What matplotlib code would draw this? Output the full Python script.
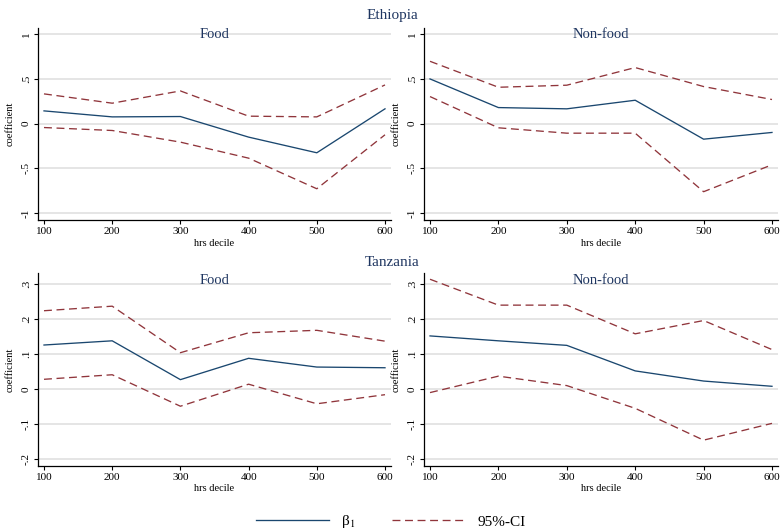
import matplotlib
matplotlib.use("Agg")
import matplotlib.pyplot as plt
from matplotlib.lines import Line2D

plt.rcParams['font.family'] = ['Liberation Serif', 'DejaVu Serif']
plt.rcParams['mathtext.fontset'] = 'stix'

deciles = [100, 200, 300, 400, 500, 600]

eth_food_b = [0.141, 0.074, 0.078, -0.152, -0.327, 0.164]
eth_food_hi = [0.331, 0.227, 0.364, 0.082, 0.074, 0.431]
eth_food_lo = [-0.045, -0.078, -0.208, -0.387, -0.729, -0.126]

eth_nonfood_b = [0.498, 0.178, 0.164, 0.260, -0.175, -0.100]
eth_nonfood_hi = [0.695, 0.405, 0.428, 0.625, 0.413, 0.268]
eth_nonfood_lo = [0.301, -0.048, -0.108, -0.108, -0.762, -0.461]

tza_food_b = [0.126, 0.138, 0.027, 0.088, 0.063, 0.061]
tza_food_hi = [0.224, 0.237, 0.104, 0.161, 0.168, 0.137]
tza_food_lo = [0.028, 0.041, -0.049, 0.014, -0.042, -0.016]

tza_nonfood_b = [0.152, 0.138, 0.125, 0.052, 0.023, 0.008]
tza_nonfood_hi = [0.314, 0.240, 0.240, 0.158, 0.196, 0.113]
tza_nonfood_lo = [-0.010, 0.037, 0.010, -0.055, -0.146, -0.098]

eth_yticks = [-1, -0.5, 0, 0.5, 1]
eth_ylabels = ['-1', '-.5', '0', '.5', '1']
tza_yticks = [-0.2, -0.1, 0, 0.1, 0.2, 0.3]
tza_ylabels = ['-.2', '-.1', '0', '.1', '.2', '.3']

panel_titles = ['Food', 'Non-food']
country_titles = ['Ethiopia', 'Tanzania']
legend_labels = ['β$_{1}$', '95%-CI']

BLUE = '#1a476f'
RED = '#90353b'
TITLE = '#1e3560'
GRID = '#dedede'
DASH = (6, 3.5)

fig = plt.figure(figsize=(7.82, 5.29), dpi=100)

W = 782.0
H = 529.0

def make_ax(left_px, right_px, top_px, bottom_px):
    return fig.add_axes([left_px / W, 1 - bottom_px / H,
                         (right_px - left_px) / W, (bottom_px - top_px) / H])

specs = [
    (38, 391, 28, 220, eth_food_b, eth_food_hi, eth_food_lo, eth_yticks, eth_ylabels, (-1.078, 1.067), panel_titles[0]),
    (424, 778, 28, 220, eth_nonfood_b, eth_nonfood_hi, eth_nonfood_lo, eth_yticks, eth_ylabels, (-1.078, 1.067), panel_titles[1]),
    (38, 391, 273.3, 465.7, tza_food_b, tza_food_hi, tza_food_lo, tza_yticks, tza_ylabels, (-0.219, 0.331), panel_titles[0]),
    (424, 778, 273.3, 465.7, tza_nonfood_b, tza_nonfood_hi, tza_nonfood_lo, tza_yticks, tza_ylabels, (-0.219, 0.331), panel_titles[1]),
]

for (l, r, t, b, beta, hi, lo, yt, yl, ylim, ttl) in specs:
    ax = make_ax(l, r, t, b)
    ax.set_xlim(91.2, 608.8)
    ax.set_ylim(*ylim)
    for y in yt:
        ax.axhline(y, color=GRID, lw=1.1, zorder=0)
    ax.plot(deciles, beta, color=BLUE, lw=0.95, zorder=3)
    ax.plot(deciles, hi, color=RED, lw=0.95, dashes=DASH, zorder=2)
    ax.plot(deciles, lo, color=RED, lw=0.95, dashes=DASH, zorder=2)
    ax.set_yticks(yt)
    ax.set_yticklabels(yl, rotation=90, va='center')
    ax.set_xticks(deciles)
    ax.set_xticklabels([str(d) for d in deciles])
    ax.tick_params(axis='both', labelsize=8, length=3, width=0.8, pad=2, color='black')
    for s in ['top', 'right']:
        ax.spines[s].set_visible(False)
    for s in ['left', 'bottom']:
        ax.spines[s].set_linewidth(0.9)
        ax.spines[s].set_color('black')
    ax.set_ylabel('coefficient', fontsize=7.5)
    ax.yaxis.set_label_coords(-0.065, 0.5)
    ax.set_xlabel('hrs decile', fontsize=7.5)
    ax.xaxis.set_label_coords(0.5, -0.12)
    ax.xaxis.label.set_va('center')
    ax.text(0.5, 0.964, ttl, transform=ax.transAxes, ha='center', va='center',
            fontsize=10.5, color=TITLE)

fig.text(0.502, 1 - 15 / H, country_titles[0], ha='center', va='center', fontsize=11, color=TITLE)
fig.text(0.502, 1 - 262 / H, country_titles[1], ha='center', va='center', fontsize=11, color=TITLE)

handles = [Line2D([], [], color=BLUE, lw=0.95),
           Line2D([], [], color=RED, lw=0.95, dashes=DASH)]
fig.legend(handles, legend_labels, loc='center', bbox_to_anchor=(0.5, 1 - 522 / H),
           ncol=2, frameon=False, fontsize=11, handlelength=4.8, columnspacing=2.4,
           handletextpad=0.8)

fig.savefig('out.png', dpi=100)
